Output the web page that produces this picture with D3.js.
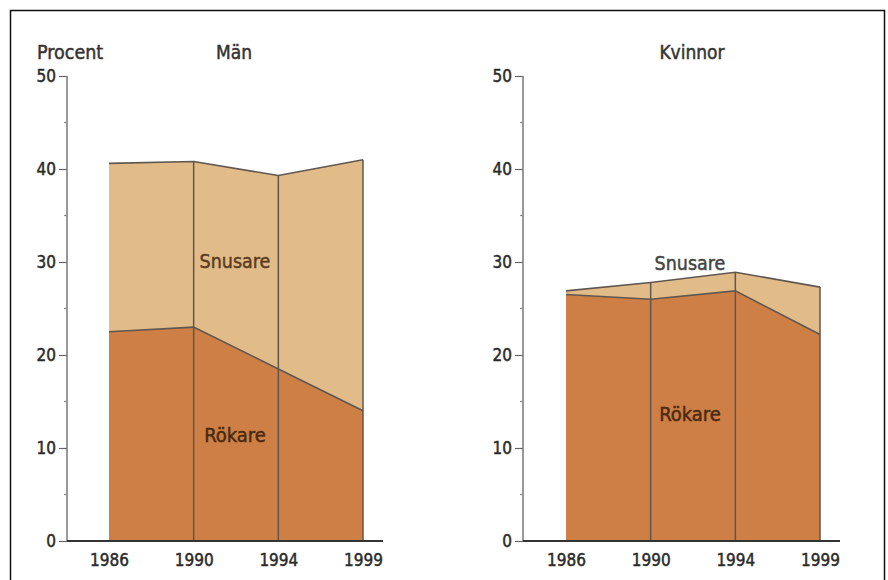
<!DOCTYPE html>
<html>
<head>
<meta charset="utf-8">
<script src="https://cdn.jsdelivr.net/npm/d3@7"></script>
<style>
  body { margin: 0; background: #fff; }
  svg text { font-family: "DejaVu Sans Condensed", "Liberation Sans Narrow", "Roboto", sans-serif; stroke-width: 0.45px; }
</style>
</head>
<body>
<div id="chart"></div>
<script>
const years = ["1986", "1990", "1994", "1999"];
const yTicks = [0, 10, 20, 30, 40, 50];
// percent smoking / snus use (snusare = extra layer on top of rökare)
const manRokare = [22.5, 23.0, 18.5, 14.0];
const manSnusare = [18.1, 17.8, 20.8, 27.0];
const kvinnorRokare = [26.5, 26.0, 26.9, 22.2];
const kvinnorSnusare = [0.4, 1.8, 2.0, 5.1];

const width = 888, height = 580;
const svg = d3.select("#chart").append("svg")
    .attr("width", width)
    .attr("height", height);

// outer frame
svg.append("rect")
    .attr("x", 10.5).attr("y", 10.5)
    .attr("width", 874).attr("height", 600)
    .attr("fill", "none").attr("stroke", "#111").attr("stroke-width", 1.5);

const lightFill = "#e1bb88";
const darkFill = "#cd7f45";
const edge = "#5f5750";

function label(sel, color) {
    return sel.attr("fill", color).attr("stroke", color);
}

function drawPanel(opts) {
    const y = d3.scaleLinear().domain([0, 50]).range([541, 76]);
    const x = d3.scalePoint().domain(years).range([opts.x0, opts.x1]);
    const g = svg.append("g");

    const rows = years.map((yr, i) => ({year: yr, rokare: opts.rokare[i], snusare: opts.snusare[i]}));
    const series = d3.stack().keys(["rokare", "snusare"])(rows);
    const colors = {rokare: darkFill, snusare: lightFill};

    const area = d3.area()
        .x(d => x(d.data.year))
        .y0(d => y(d[0]))
        .y1(d => y(d[1]));

    g.selectAll(".layer")
        .data(series)
        .enter().append("path")
        .attr("class", "layer")
        .attr("d", area)
        .attr("fill", d => colors[d.key]);

    // vertical seams
    g.selectAll(".seam")
        .data(rows.slice(1))
        .enter().append("line")
        .attr("x1", d => x(d.year)).attr("x2", d => x(d.year))
        .attr("y1", y(0))
        .attr("y2", d => y(d.rokare + d.snusare))
        .attr("stroke", edge).attr("stroke-width", 1.5);

    const line = d3.line().x(d => x(d.data.year)).y(d => y(d[1]));
    g.selectAll(".edge")
        .data(series)
        .enter().append("path")
        .attr("d", line)
        .attr("fill", "none")
        .attr("stroke", edge)
        .attr("stroke-width", 1.6);

    // y axis
    const ax = opts.axisX;
    const yAxis = g.append("g").attr("transform", `translate(${ax},0)`)
        .call(d3.axisLeft(y).tickValues(yTicks).tickSize(8).tickPadding(3));
    yAxis.select(".domain").remove();
    yAxis.selectAll(".tick line").attr("stroke", "#666").attr("stroke-width", 1.2);
    label(yAxis.selectAll(".tick text"), "#2a2a2a").style("font-size", "17px");
    g.append("line")
        .attr("x1", ax).attr("x2", ax)
        .attr("y1", y(50)).attr("y2", y(0))
        .attr("stroke", "#777").attr("stroke-width", 1.5);
    g.selectAll(".minor")
        .data([5, 15, 25, 35, 45])
        .enter().append("line")
        .attr("x1", ax - 3).attr("x2", ax)
        .attr("y1", d => y(d)).attr("y2", d => y(d))
        .attr("stroke", "#888").attr("stroke-width", 1.2);

    // x axis baseline
    g.append("line")
        .attr("x1", ax).attr("x2", opts.x1 + 20)
        .attr("y1", y(0)).attr("y2", y(0))
        .attr("stroke", "#333").attr("stroke-width", 2);
    const xAxis = g.append("g").attr("transform", `translate(0,${y(0)})`)
        .call(d3.axisBottom(x).tickSize(0).tickPadding(13));
    xAxis.select(".domain").remove();
    label(xAxis.selectAll(".tick text"), "#2a2a2a").style("font-size", "17px");

    // titles and labels
    label(g.append("text"), "#333")
        .attr("x", opts.titleX).attr("y", 59)
        .attr("text-anchor", "middle")
        .style("font-size", "19px")
        .text(opts.title);
    label(g.append("text"), opts.snusColor)
        .attr("x", opts.snusX).attr("y", opts.snusY)
        .attr("text-anchor", "middle")
        .style("font-size", "19.5px")
        .text("Snusare");
    label(g.append("text"), "#4a2a12")
        .attr("x", opts.rokX).attr("y", opts.rokY)
        .attr("text-anchor", "middle")
        .style("font-size", "20px")
        .text("Rökare");
}

label(svg.append("text"), "#333")
    .attr("x", 37).attr("y", 59)
    .style("font-size", "19.5px")
    .text("Procent");

drawPanel({
    x0: 109, x1: 363, axisX: 67,
    rokare: manRokare, snusare: manSnusare,
    title: "Män", titleX: 234,
    snusX: 235, snusY: 268, snusColor: "#5a3c22",
    rokX: 235, rokY: 442
});

drawPanel({
    x0: 566, x1: 820, axisX: 523,
    rokare: kvinnorRokare, snusare: kvinnorSnusare,
    title: "Kvinnor", titleX: 692,
    snusX: 690, snusY: 270, snusColor: "#444",
    rokX: 690, rokY: 421
});
</script>
</body>
</html>
